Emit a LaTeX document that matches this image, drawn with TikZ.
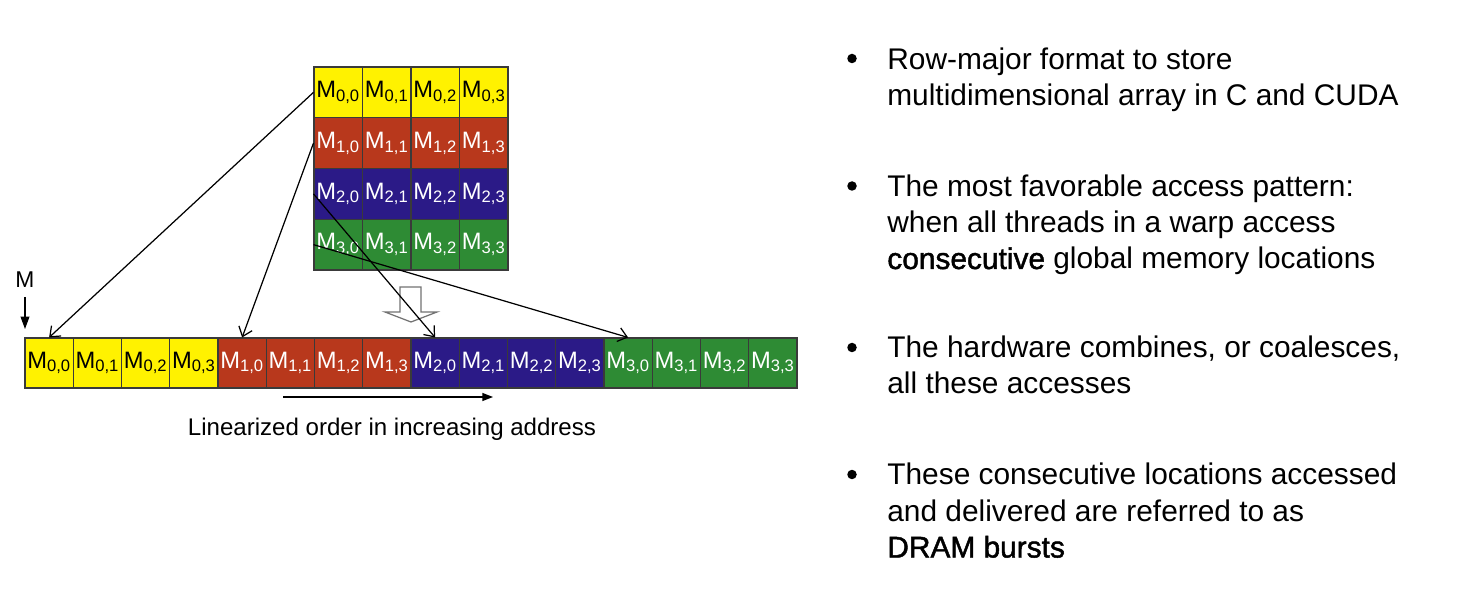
\documentclass[tikz,border=0pt]{standalone}
\usepackage{fontspec}
\setmainfont{Liberation Sans}
\newfontfamily\strongfont[FakeBold=1.5]{Liberation Sans}
\usepackage{xcolor}
\definecolor{rowYellow}{HTML}{FFF200}
\definecolor{rowRed}{HTML}{B8381C}
\definecolor{rowBlue}{HTML}{2B1A87}
\definecolor{rowGreen}{HTML}{2E8B34}
\definecolor{cellEdge}{HTML}{3A3A3A}
\usetikzlibrary{arrows.meta}

\begin{document}
\begin{tikzpicture}[x=0.02cm, y=-0.02cm,
  cell/.style={draw=cellEdge, line width=0.6pt, minimum width=0.97cm, minimum height=1.015cm, inner sep=0pt, font=\fontsize{13.5}{15}\selectfont},
  link/.style={-{Straight Barb[length=5pt,width=8pt]}, line width=0.7pt},
  dot/.style={circle, fill=black, inner sep=0pt, minimum size=0.19cm},
  bulletText/.style={anchor=base west, align=left, inner sep=0pt, font=\fontsize{17}{20.7}\selectfont}]
  \path[use as bounding box, fill=white] (0,0) rectangle (1461,604);
  % matrix and its linearized copy
  \foreach \r/\col/\txt in {0/rowYellow/black, 1/rowRed/white, 2/rowBlue/white, 3/rowGreen/white}
    \foreach \c in {0,...,3} {
      \node[cell, fill=\col, text=\txt] (m\r\c) at ({314+48.5*(\c+0.5)}, {67+50.75*(\r+0.5)}) {M\textsubscript{\r,\c}};
      \node[cell, fill=\col, text=\txt, minimum width=0.965cm, minimum height=1cm] (l\r\c) at ({25+48.25*(4*\r+\c+0.5)}, 363) {M\textsubscript{\r,\c}};
    }
  % hollow arrow
  \draw[fill=white, draw=black!55, line width=0.7pt] (400,287) -- (421,287) -- (421,312) -- (437,312) -- (411,322) -- (385,312) -- (400,312) -- cycle;
  \draw[link] (m00.west) -- (l00.north);
  \draw[link] (m10.west) -- (l10.north);
  \draw[link] (m20.west) -- (l20.north);
  \draw[link] (m30.west) -- (l30.north);
  % start label
  \node[inner sep=1pt, font=\fontsize{13}{15}\selectfont] (mlabel) at (25,280) {M};
  \coordinate (mtip) at (25,329);
  \draw[-{Triangle[length=7pt,width=5pt]}, line width=0.6pt, shorten <=4pt] (mlabel.south) -- (mtip);
  % address order
  \coordinate (ord0) at (283,397);
  \coordinate (ord1) at (493,397);
  \draw[-{Triangle[length=6pt,width=4.5pt]}, line width=0.7pt] (ord0) -- (ord1);
  \node[font=\fontsize{13.7}{15}\selectfont] (order) at (392,429) {Linearized order in increasing address};
  % bullets (text nodes sit on their last baseline)
  \node[dot] (dot1) at (852,58.5) {};
  \node[dot] (dot2) at (852,186) {};
  \node[dot] (dot3) at (852,347.5) {};
  \node[dot] (dot4) at (852,474.5) {};
  \node[bulletText] (txt1) at (887,105.5) {Row-major format to store\\multidimensional array in C and CUDA};
  \node[bulletText] (txt2) at (887,269) {The most favorable access pattern:\\when all threads in a warp access\\{\strongfont consecutive} global memory locations};
  \node[bulletText] (txt3) at (887,394) {The hardware combines, or coalesces,\\all these accesses};
  \node[bulletText] (txt4) at (887,557.5) {These consecutive locations accessed\\and delivered are referred to as\\{\strongfont DRAM bursts}};
\end{tikzpicture}
\end{document}
